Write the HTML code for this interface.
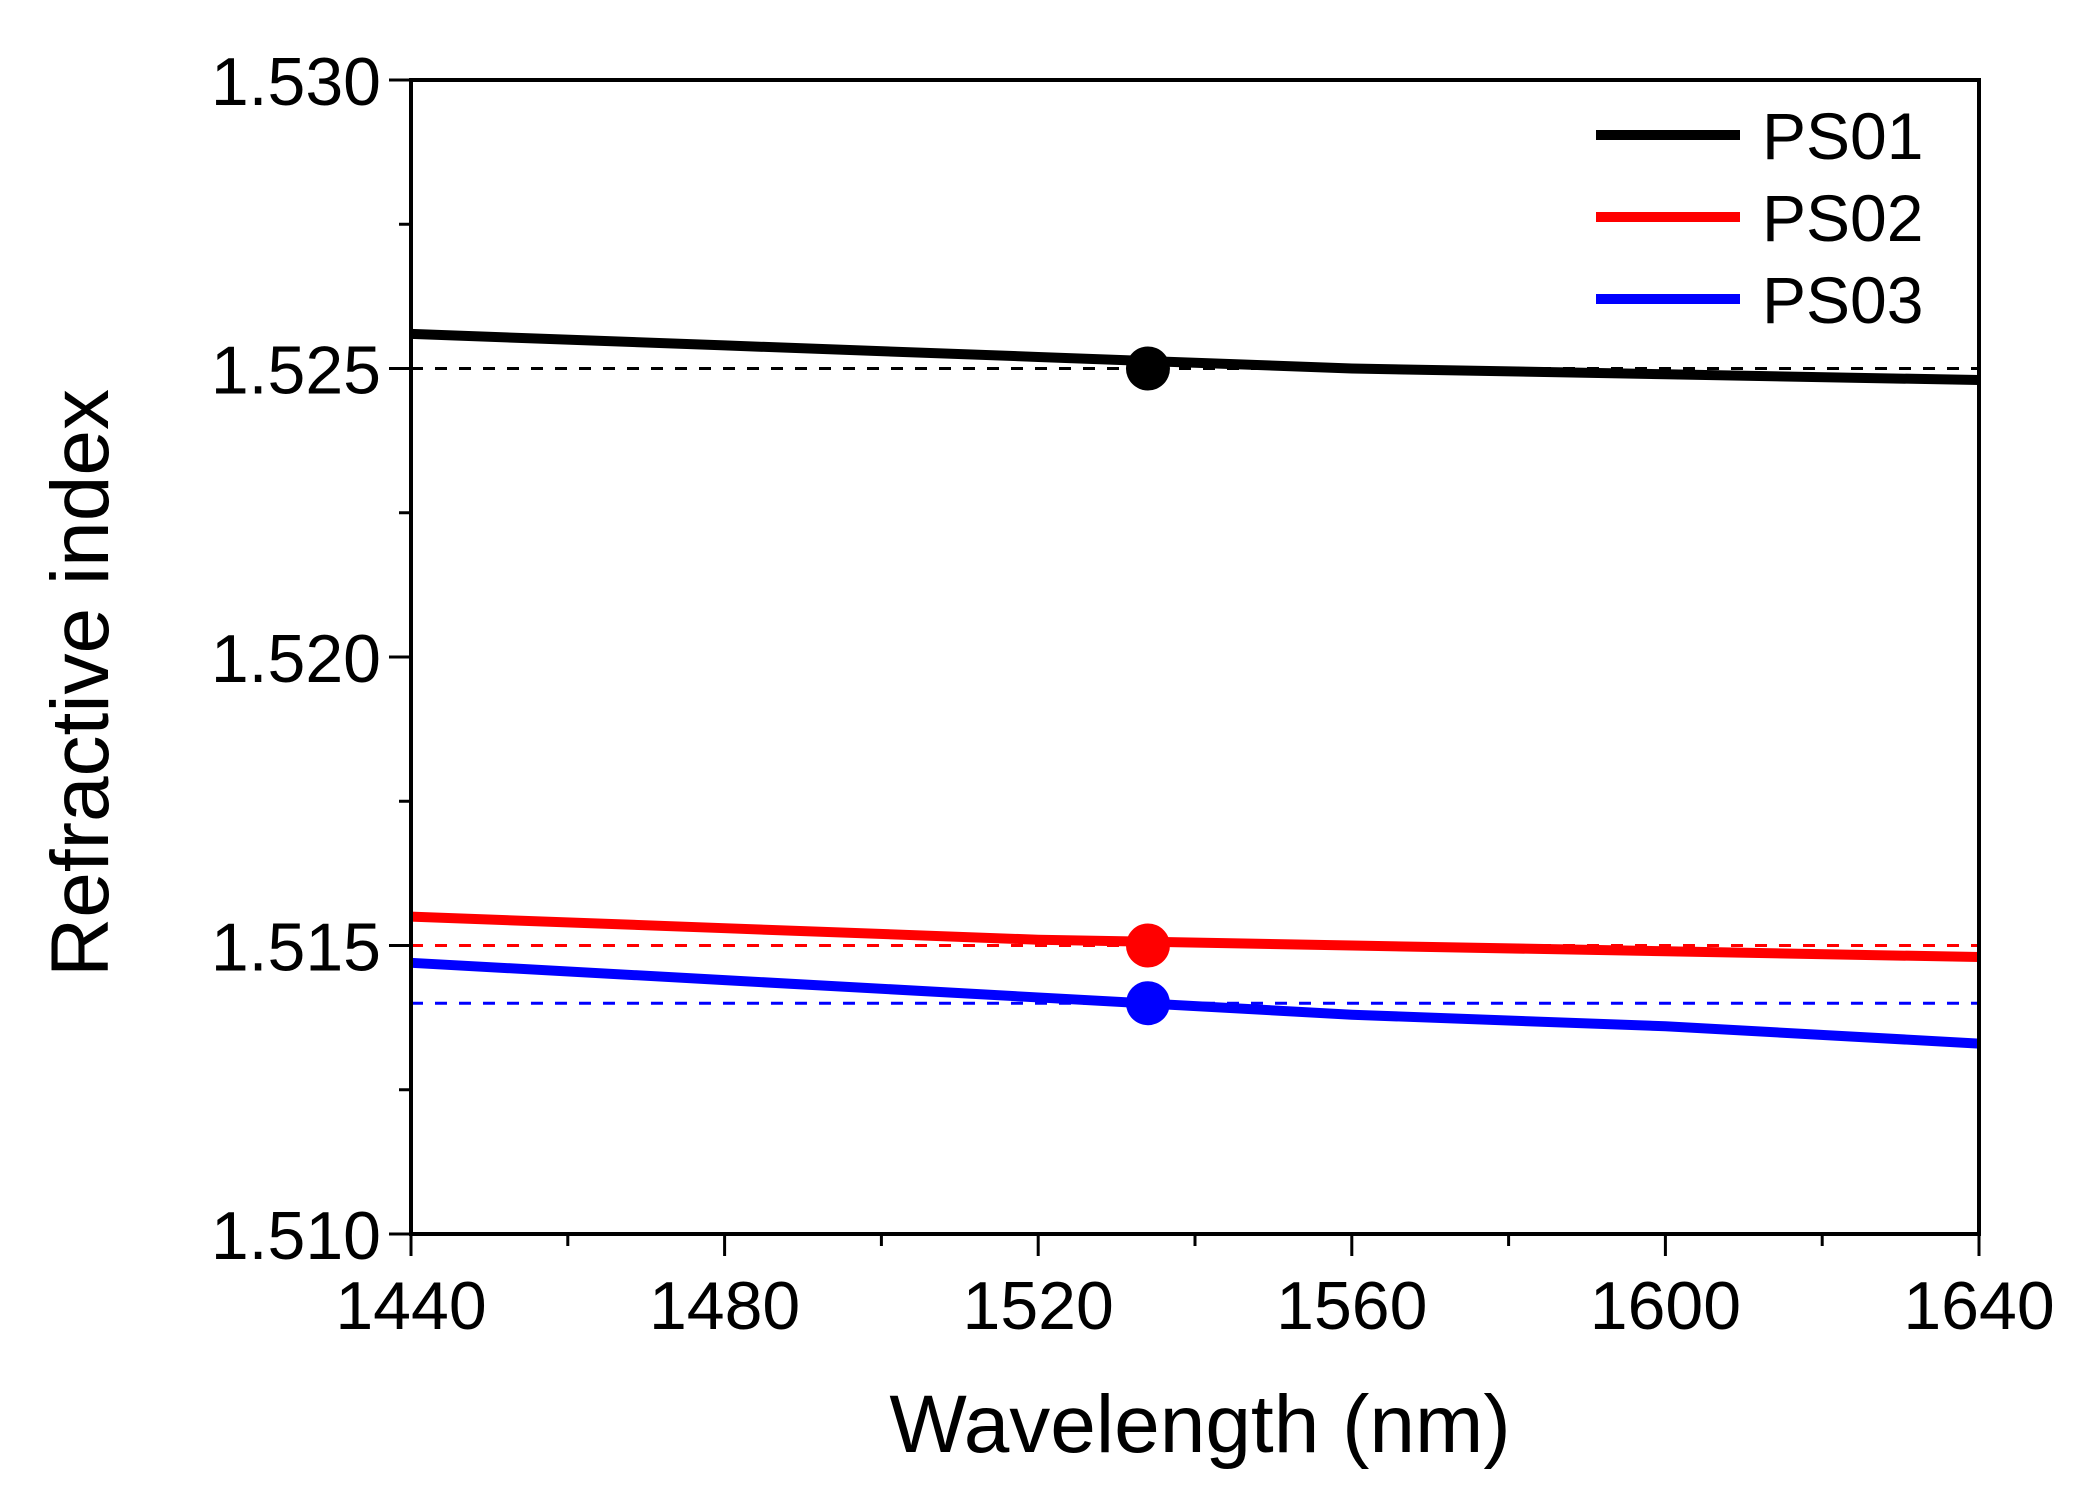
<!DOCTYPE html>
<html><head><meta charset="utf-8"><style>
html,body{margin:0;padding:0;background:#fff;}
svg{display:block;font-family:"Liberation Sans",Arial,sans-serif;}
</style></head><body>
<svg id="chart" width="2080" height="1489" viewBox="0 0 2080 1489" xmlns="http://www.w3.org/2000/svg">
<g id="grid-layer"></g>
</svg>
<script>
const xTicks = [1440, 1480, 1520, 1560, 1600, 1640];
const yTicks = [1.510, 1.515, 1.520, 1.525, 1.530];
const yTickLabels = ["1.510", "1.515", "1.520", "1.525", "1.530"];
const seriesNames = ["PS01", "PS02", "PS03"];
const wavelengths = [1440, 1480, 1520, 1560, 1600, 1640];
const ps01 = [1.5256, 1.5254, 1.5252, 1.5250, 1.5249, 1.5248];
const ps02 = [1.5155, 1.5153, 1.5151, 1.5150, 1.5149, 1.5148];
const ps03 = [1.5147, 1.5144, 1.5141, 1.5138, 1.5136, 1.5133];
const markerX = [1534, 1534, 1534];
const markerY = [1.525, 1.515, 1.514];
const refLevels = [1.525, 1.515, 1.514];
const colors = ["#000000", "#ff0000", "#0000ff"];

const L = 411, R = 1979, T = 80, B = 1234;
const xS = v => L + (v - 1440) / 200 * (R - L);
const yS = v => B - (v - 1.510) / 0.020 * (B - T);
const NS = "http://www.w3.org/2000/svg";
const svg = document.getElementById('chart');
function mk(tag, attrs, parent) {
  const e = document.createElementNS(NS, tag);
  for (const k in attrs) e.setAttribute(k, attrs[k]);
  (parent || svg).appendChild(e);
  return e;
}
refLevels.forEach((v, i) => {
  const e = mk('line', {x1: L, x2: R, y1: yS(v), y2: yS(v), stroke: colors[i], 'stroke-width': 3, 'stroke-dasharray': '12 12'});
  
  
});
[ps01, ps02, ps03].forEach((arr, i) => {
  const d = arr.map((v, j) => (j ? 'L' : 'M') + xS(wavelengths[j]) + ' ' + yS(v)).join(' ');
  const e = mk('path', {d: d, fill: 'none', stroke: colors[i], 'stroke-width': 10});
  
  
});
markerX.forEach((v, i) => {
  const e = mk('circle', {cx: xS(v), cy: yS(markerY[i]), r: 22, fill: colors[i]});
  
  
});
const box = mk('rect', {x: L, y: T, width: R - L, height: B - T, fill: 'none', stroke: '#000', 'stroke-width': 4});


for (let v = 1440; v <= 1640; v += 20) {
  const major = xTicks.includes(v);
  const t = mk('line', {x1: xS(v), x2: xS(v), y1: B, y2: B + (major ? 22 : 12), stroke: '#000', 'stroke-width': 3});
  
  
}
xTicks.forEach(v => {
  const t = mk('text', {x: xS(v), y: B + 95, 'font-size': 68, 'text-anchor': 'middle'});
  t.textContent = v;
  
  
});
for (let k = 0; k <= 8; k++) {
  const v = 1.510 + k * 0.0025;
  const major = k % 2 === 0;
  const t = mk('line', {x1: L - (major ? 22 : 12), x2: L, y1: yS(v), y2: yS(v), stroke: '#000', 'stroke-width': 3});
  
  
}
yTicks.forEach((v, i) => {
  const t = mk('text', {x: L - 30, y: yS(v) + 25, 'font-size': 68, 'text-anchor': 'end'});
  t.textContent = yTickLabels[i];
  
  
});
const xt = mk('text', {x: 1200, y: 1452, 'font-size': 82, 'text-anchor': 'middle'});
xt.textContent = 'Wavelength (nm)';


const yt = mk('text', {x: 0, y: 0, 'font-size': 82, 'text-anchor': 'middle', transform: 'translate(108,683) rotate(-90)'});
yt.textContent = 'Refractive index';


seriesNames.forEach((n, i) => {
  const y = 135 + i * 82;
  const g = mk('g', {});
  
  
  mk('line', {x1: 1596, x2: 1740, y1: y, y2: y, stroke: colors[i], 'stroke-width': 10}, g);
  const t = mk('text', {x: 1762, y: y + 24, 'font-size': 66}, g);
  t.textContent = n;
});
</script>
</body></html>
